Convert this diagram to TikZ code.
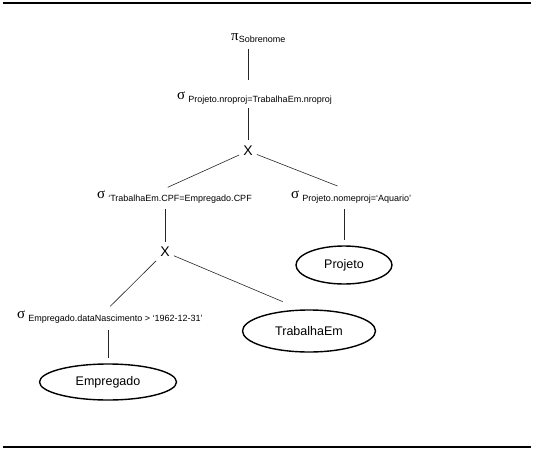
\documentclass[tikz,border=0pt]{standalone}
\usepackage{fontspec}
\setmainfont{Liberation Sans}
\newfontfamily\opfont{Liberation Serif}
\usetikzlibrary{shapes.geometric}

\newcommand{\selop}[1]{{\opfont\fontsize{15}{16}\selectfont σ}\hspace{3pt}\raisebox{-3pt}{\fontsize{9}{10}\selectfont #1}}

\begin{document}
\begin{tikzpicture}[x=1pt,y=-1pt]

\useasboundingbox (0,0) rectangle (534,449);

\tikzset{
  relation/.style={draw, ellipse, line width=1.4pt, minimum width=#1, minimum height=38pt, inner sep=0pt, font=\fontsize{12.5}{14}\selectfont},
  operator/.style={anchor=west, inner sep=2pt},
  kreuz/.style={font=\fontsize{14}{16}\selectfont, inner sep=4pt},
  kante/.style={draw=black!85, line width=0.6pt}
}

% 1. Rahmenlinien oben und unten
\draw[line width=1.2pt] (3,3) -- (531,3);
\draw[line width=1.2pt] (3,447) -- (531,447);

% 2. Projektion an der Wurzel
\node[operator] (proj) at (229,38) {{\opfont\fontsize{15}{16}\selectfont π}\raisebox{-2pt}{\fontsize{9}{10}\selectfont Sobrenome}};

% 3. Selektionen
\node[operator] (sel1) at (175,98) {\selop{Projeto.nroproj=TrabalhaEm.nroproj}};
\node[operator] (sel2) at (95,197) {\selop{‘TrabalhaEm.CPF=Empregado.CPF}};
\node[operator] (sel3) at (289,197) {\selop{Projeto.nomeproj=‘Aquario’}};
\node[operator] (sel4) at (15,317) {\selop{Empregado.dataNascimento > ‘1962-12-31’}};

% 4. Kreuzprodukte
\node[kreuz] (kreuz1) at (248,151) {X};
\node[kreuz] (kreuz2) at (165,252) {X};

% 5. Relationen als Ellipsen
\node[relation=96pt] (projeto) at (344,265) {Projeto};
\node[relation=133pt, minimum height=42pt] (trabalha) at (309,331) {TrabalhaEm};
\node[relation=137pt, minimum height=36pt] (empregado) at (108,382) {Empregado};

% 6. Kanten des Baumes
\draw[kante, shorten <=4pt, shorten >=10pt] (proj.south -| kreuz1) -- (sel1.north -| kreuz1);
\draw[kante, shorten <=2pt, shorten >=2pt] (sel1.south -| kreuz1) -- (kreuz1);
\draw[kante, shorten >=3pt] (kreuz1) -- (sel2.north -| kreuz2);
\draw[kante, shorten >=7pt] (kreuz1) -- (sel3.north -| projeto);
\draw[kante, shorten <=4pt, shorten >=1pt] (sel2.south -| kreuz2) -- (kreuz2);
\draw[kante, shorten <=4pt, shorten >=5pt] (sel3.south -| projeto) -- (projeto);
\draw[kante, shorten >=3pt] (kreuz2) -- (sel4.north -| empregado);
\draw[kante, shorten >=20pt] (kreuz2) -- (trabalha.110);
\draw[kante, shorten <=5pt, shorten >=5pt] (sel4.south -| empregado) -- (empregado);

\end{tikzpicture}
\end{document}
